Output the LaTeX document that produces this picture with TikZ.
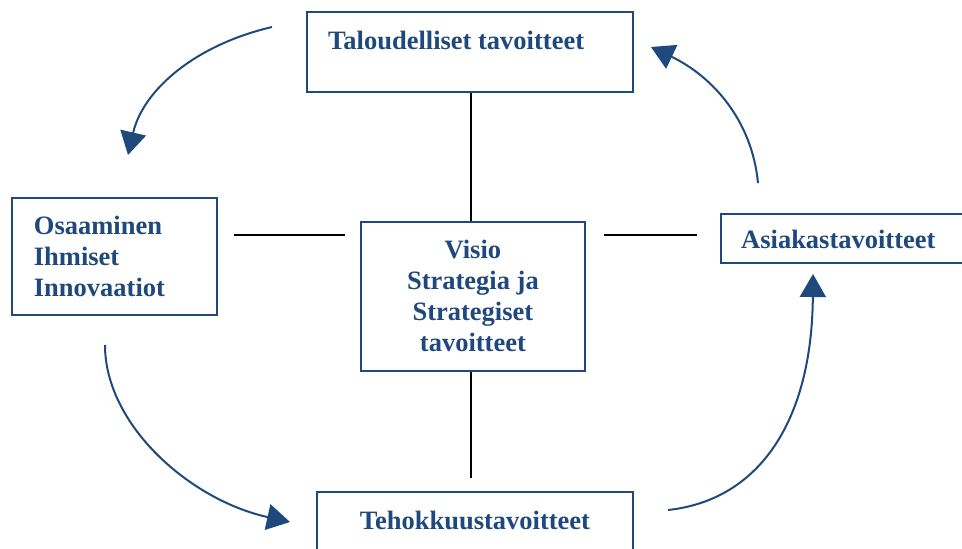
\documentclass[tikz,border=0pt]{standalone}
\usepackage{fontspec}
\setmainfont{Liberation Serif}
\usetikzlibrary{arrows.meta,calc}
\definecolor{navy}{HTML}{1F497D}
\begin{document}
\begin{tikzpicture}[x=1pt,y=-1pt,
  box/.style={draw=navy,line width=1.8pt,rectangle,inner sep=0pt},
  lbl/.style={text=navy,font=\fontsize{26.5}{31}\selectfont\bfseries,inner sep=0pt},
  link/.style={draw=black,line width=1.6pt},
  flow/.style={draw=navy,line width=2pt,-{Triangle[length=23pt,width=26pt]}}]
\useasboundingbox (0,0) rectangle (962,549);
\clip (0,0) rectangle (962,549);

% boxes
\node[box,minimum width=326pt,minimum height=80pt,anchor=north west] (tal) at (306,11) {};
\node[lbl,anchor=west] (talt) at ($(tal.north west)+(22,29)$) {Taloudelliset tavoitteet};

\node[box,lbl,align=left,text width=161pt,inner xsep=22pt,minimum height=117pt,anchor=north west] (osa) at (11,197)
  {Osaaminen\\Ihmiset\\Innovaatiot};

\node[box,lbl,align=center,minimum width=224pt,minimum height=149pt,anchor=north west] (vis) at (360,221)
  {Visio\\Strategia ja\\Strategiset\\tavoitteet};

\node[box,minimum width=260pt,minimum height=49pt,anchor=north west] (asi) at (720,213) {};
\node[lbl,anchor=west] (asit) at ($(asi.west)+(21,1)$) {Asiakastavoitteet};

\node[box,minimum width=316pt,minimum height=80pt,anchor=north west] (teh) at (316,491) {};
\node[lbl] (teht) at ($(teh.north)+(0,29)$) {Tehokkuustavoitteet};

% plain links to the centre box
\coordinate (hy) at ($(vis.north)+(0,14)$);
\coordinate (vx) at ($(vis.north)+(-2,0)$);
\draw[link] (tal.south -| vx) -- (vx);
\draw[link,shorten >=13pt] (vis.south -| vx) -- (teh.north -| vx);
\draw[link,shorten <=16pt,shorten >=15pt] (osa.east |- hy) -- (vis.west |- hy);
\draw[link,shorten <=18pt,shorten >=23pt] (vis.east |- hy) -- (asi.west |- hy);

% circular flow arrows
\coordinate (a1s) at (272,27);
\coordinate (a1e) at (128,155);
\coordinate (a2s) at (105,345);
\coordinate (a2e) at (290,522);
\coordinate (a3s) at (668,510);
\coordinate (a3e) at (813,274);
\coordinate (a4s) at (758,183);
\coordinate (a4e) at (651,47);
\draw[flow] (a1s) .. controls (195,45) and (143,90) .. (a1e);
\draw[flow] (a2s) .. controls (105,425) and (190,500) .. (a2e);
\draw[flow] (a3s) .. controls (760,500) and (812,420) .. (a3e);
\draw[flow] (a4s) .. controls (752,120) and (712,76) .. (a4e);
\end{tikzpicture}
\end{document}
